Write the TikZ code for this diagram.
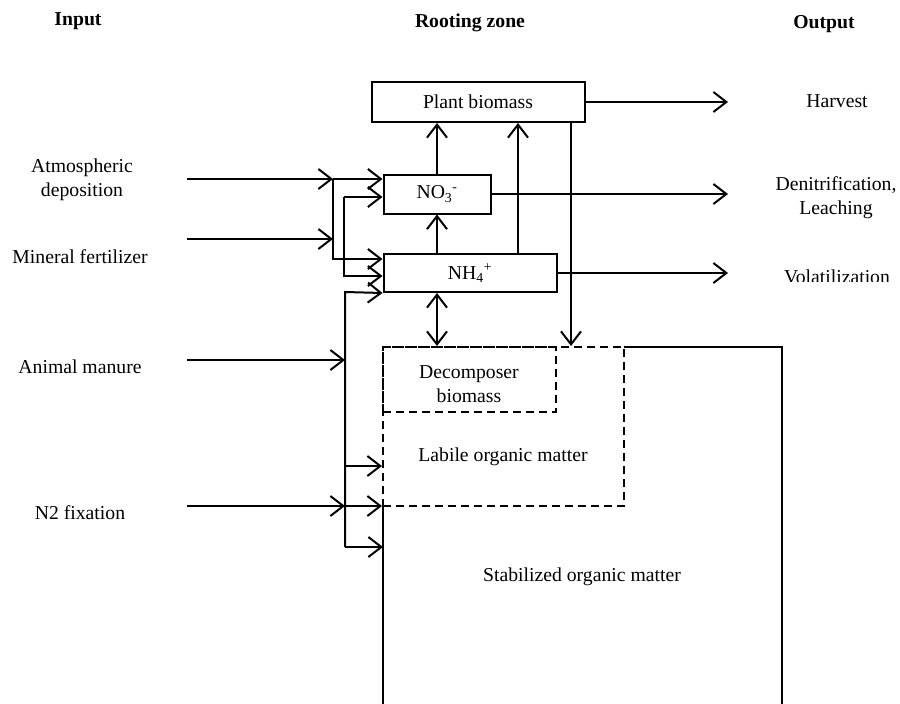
\documentclass[tikz,border=0pt]{standalone}
\usepackage{fontspec}
\setmainfont{Liberation Serif}
\usetikzlibrary{arrows.meta}
\begin{document}
\begin{tikzpicture}[x=1pt,y=-1pt,
  line width=2pt,
  txt/.style={font=\fontsize{19.7}{24}\selectfont, inner sep=0pt, align=center},
  hdr/.style={font=\fontsize{19.7}{24}\selectfont\bfseries, inner sep=0pt},
  box/.style={draw, line width=2pt, inner sep=0pt, font=\fontsize{19.7}{24}\selectfont},
  dbox/.style={draw, line width=2pt, dash pattern=on 8pt off 5pt, inner sep=0pt},
  arr/.style={-{Straight Barb[length=13pt,width=20pt]}},
  darr/.style={{Straight Barb[length=13pt,width=20pt]}-{Straight Barb[length=13pt,width=20pt]}}]
\useasboundingbox (0,0) rectangle (900,704);

% headers
\node[hdr] (hin) at (78,21) {Input};
\node[hdr] (hroot) at (470,23) {Rooting zone};
\node[hdr] (hout) at (824,24) {Output};

% boxes
\node[box, minimum width=213pt, minimum height=40pt] (plant) at (478,102) {Plant biomass};
\node[box, minimum width=107pt, minimum height=39pt] (no3) at (437,194) {NO\textsubscript{3}\textsuperscript{-}};
\node[box, minimum width=173pt, minimum height=38pt] (nh4) at (470,273) {NH\textsubscript{4}\textsuperscript{+}};

% dashed pools
\node[dbox, minimum width=241pt, minimum height=159pt] (lab) at (503.5,426.5) {};
\node[dbox, minimum width=173pt, minimum height=65pt] (dec) at (469.5,379.5) {};
\node[txt] (dect) at (469,384.5) {Decomposer\\biomass};
\node[txt] (labt) at (503,457) {Labile organic matter};

% stabilized organic matter (open box)
\coordinate (s1) at (383,706);
\coordinate (s2) at (383,506);
\coordinate (s3) at (624,347);
\coordinate (s4) at (782,347);
\coordinate (s5) at (782,706);
\draw (s1) -- (s2);
\draw (s3) -- (s4) -- (s5);
\node[txt] (stabt) at (582,577) {Stabilized organic matter};

% inner fluxes
\coordinate (xa) at (437,0);
\coordinate (xb) at (518,0);
\coordinate (xc) at (571,0);
\draw[arr] (no3.north) -- (plant.south -| no3.north);
\draw[arr] (nh4.north -| no3.north) -- (no3.south);
\draw[arr] (nh4.north -| xb) -- (plant.south -| xb);
\draw[arr] (plant.south -| xc) -- (lab.north -| xc);
\draw[darr] (nh4.south -| xa) -- (lab.north -| xa);

% input labels
\node[txt] (atm) at (82,180) {Atmospheric\\deposition};
\node[txt] (min) at (80,257) {Mineral fertilizer};
\node[txt] (man) at (80,367) {Animal manure};
\node[txt] (nfix) at (80,513) {N2 fixation};

% input connectors
\coordinate (a0) at (187,179);
\coordinate (j1) at (333,179);
\coordinate (b0) at (187,239);
\coordinate (j2) at (333,239);
\coordinate (j3) at (333,259);
\coordinate (k1) at (344,197);
\coordinate (k2) at (344,276);
\coordinate (m1) at (345,292);
\coordinate (c0) at (187,360);
\coordinate (m2) at (345,360);
\coordinate (m3) at (345,466);
\coordinate (d0) at (187,506);
\coordinate (m4) at (345,506);
\coordinate (m5) at (345,547);

\draw[arr] (a0) -- (j1);
\draw[arr] (b0) -- (j2);
\draw[arr] (j1) -- (no3.west |- j1);
\draw[arr] (j1) -- (j3) -- (nh4.west |- j3);
\draw[arr] (k1) -- (no3.west |- k1);
\draw[arr] (k1) -- (k2) -- (nh4.west |- k2);
\draw[arr] (m5) -- (m1) -- (nh4.south west);
\draw[arr] (c0) -- (m2);
\draw[arr] (d0) -- (m4);
\draw[arr] (m3) -- (lab.west |- m3);
\draw[arr] (m4) -- (lab.west |- m4);
\draw[arr] (m5) -- (s1 |- m5);

% outputs
\coordinate (o1) at (728,102);
\coordinate (o2) at (728,194);
\coordinate (o3) at (728,273);
\draw[arr] (plant.east) -- (o1);
\draw[arr] (no3.east) -- (o2);
\draw[arr] (nh4.east) -- (o3);
\node[txt] (harv) at (837,101) {Harvest};
\node[txt] (den) at (836,197.5) {Denitrification,\\Leaching};
\begin{scope}
\clip (740,250) rectangle (900,281);
\node[txt, anchor=base] (vol) at (837,283.5) {Volatilization};
\end{scope}
\end{tikzpicture}
\end{document}
